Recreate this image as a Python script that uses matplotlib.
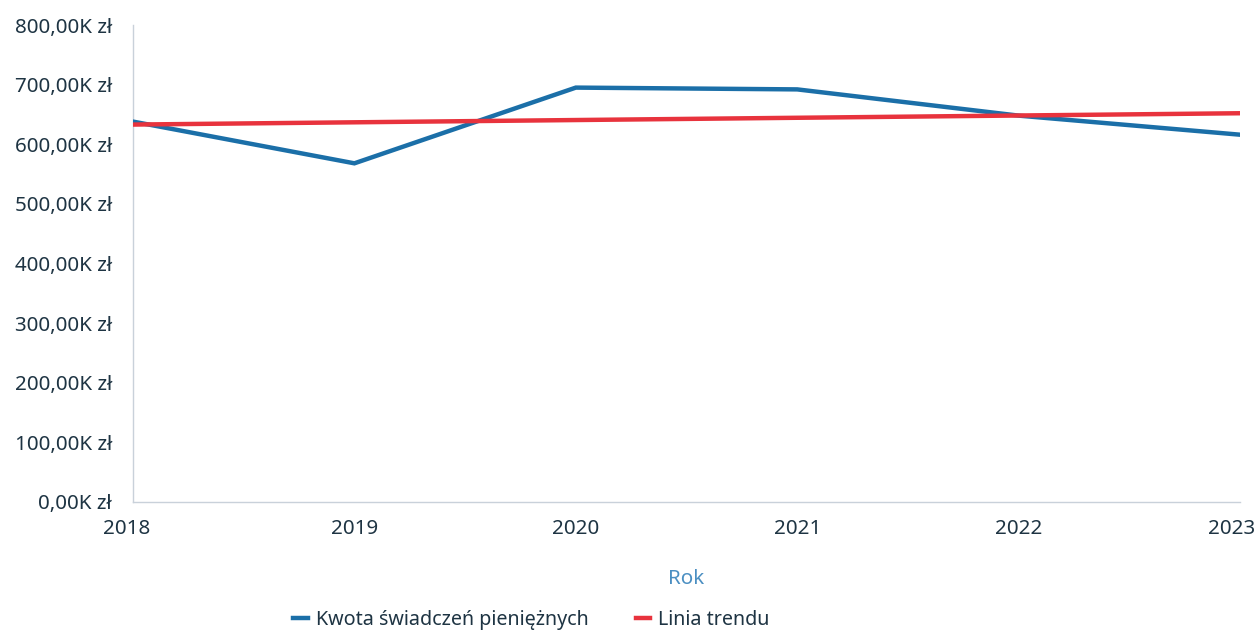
import matplotlib.pyplot as plt
import matplotlib.transforms as mtransforms
import numpy as np

plt.rcParams['font.family'] = ['Noto Sans', 'DejaVu Sans']

years = [2018, 2019, 2020, 2021, 2022, 2023]
kwota = [638, 568, 695, 692, 648, 616]   # tys. zł
trend_years = [2018, 2023]
trend = [633, 652]
yticks = [0, 100, 200, 300, 400, 500, 600, 700, 800]

txt = '#1e3443'
blue = '#1b6fa8'
red = '#e8333d'

fig = plt.figure(figsize=(12.59, 6.33), dpi=100)
ax = fig.add_axes([0.1056, 0.207, 0.8794, 0.7535])

ax.plot(years, kwota, color=blue, lw=3.2, solid_joinstyle='miter', label='Kwota świadczeń pieniężnych', zorder=3)
ax.plot(trend_years, trend, color=red, lw=3.2, label='Linia trendu', zorder=4)

ax.set_xlim(2018, 2023)
ax.set_ylim(0, 800)
ax.set_yticks(yticks)
ax.set_yticklabels(['{},00K zł'.format(v) for v in yticks])
ax.set_xticks(years)
ax.set_xticklabels([str(y) for y in years])
ax.tick_params(axis='both', length=0, labelsize=14.8, labelcolor=txt)
ax.tick_params(axis='y', pad=15)
ax.tick_params(axis='x', pad=12)

# first/last year labels sit a bit left like in the original
xl = ax.get_xticklabels()
xl[0].set_transform(xl[0].get_transform() + mtransforms.ScaledTranslation(-6/100, 0, fig.dpi_scale_trans))
xl[-1].set_transform(xl[-1].get_transform() + mtransforms.ScaledTranslation(-9/100, 0, fig.dpi_scale_trans))

for s in ['top', 'right']:
    ax.spines[s].set_visible(False)
for s in ['left', 'bottom']:
    ax.spines[s].set_color('#c9d1da')
    ax.spines[s].set_linewidth(1)

ax.set_xlabel('Rok', fontsize=14.8, color='#4b8fc2', labelpad=22)

leg = fig.legend(loc='center', bbox_to_anchor=(0.422, 0.020), ncol=2, frameon=False,
                 fontsize=14.2, handlelength=0.75, handletextpad=0.4, columnspacing=2.4)
for t in leg.get_texts():
    t.set_color(txt)

plt.savefig('out.png', dpi=100)
